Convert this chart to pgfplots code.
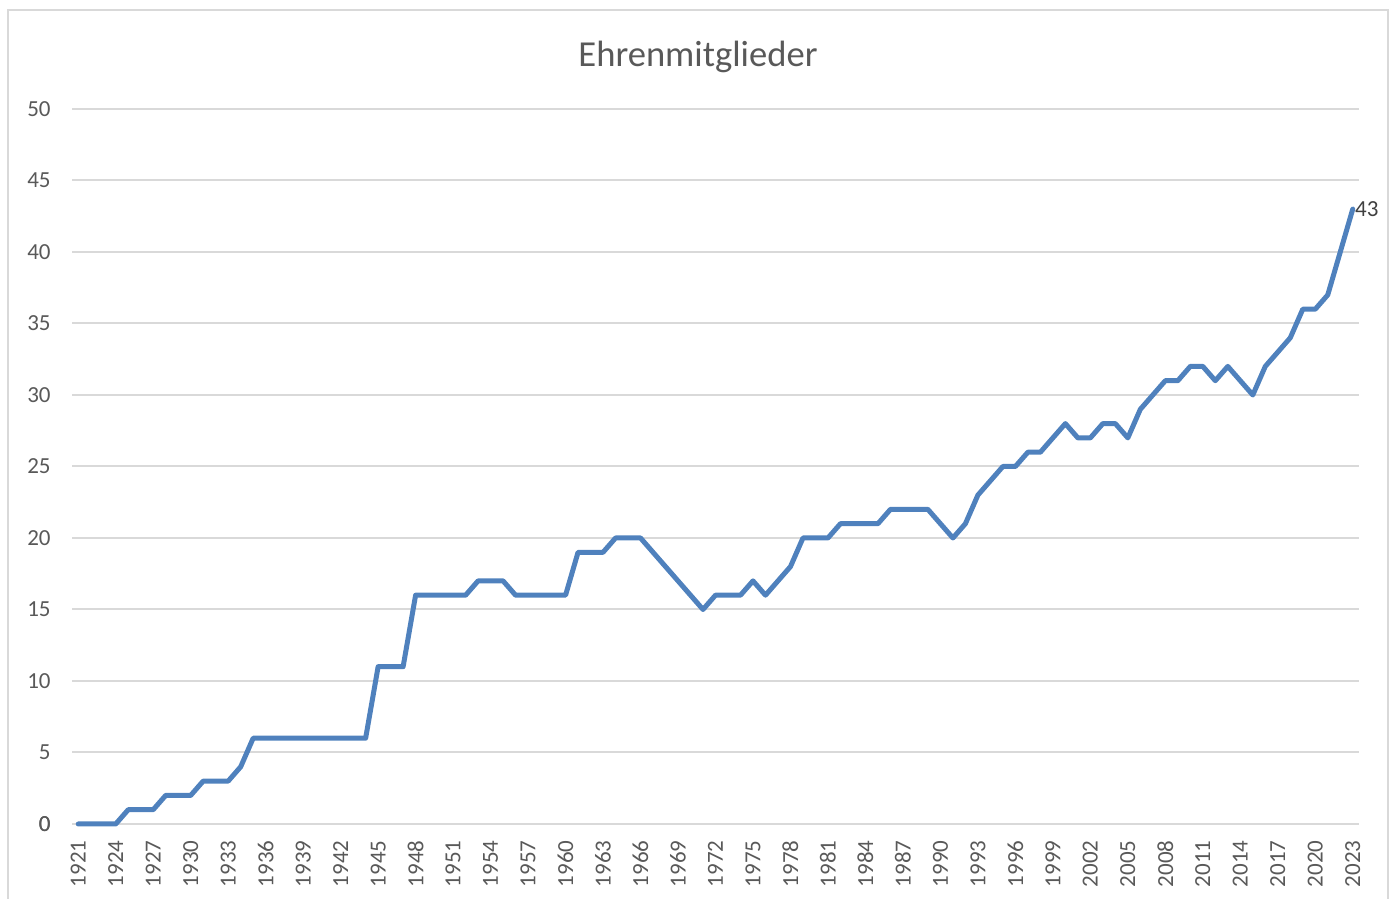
\documentclass[border=0pt]{standalone}
\usepackage{pgfplots}
\pgfplotsset{compat=1.18}
\usepackage{fontspec}
\setmainfont{Carlito}
\definecolor{linec}{HTML}{4F81BD}
\definecolor{gridc}{HTML}{D9D9D9}
\definecolor{txtc}{HTML}{595959}
\definecolor{lblc}{HTML}{404040}
\begin{document}
\begin{tikzpicture}
\path[use as bounding box] (0,0) rectangle (697pt,449.5pt);
\draw[gridc, line width=0.8pt] (4pt,-2pt) rectangle (694pt,444.5pt);
\node[anchor=base, text=txtc, font=\fontsize{18.3pt}{22pt}\selectfont] at (349pt,416pt) {Ehrenmitglieder};
\begin{axis}[
  at={(36pt,37.5pt)}, anchor=south west,
  scale only axis, width=643.5pt, height=357.5pt,
  xmin=1920.5, xmax=2023.5, ymin=0, ymax=50,
  axis line style={draw=none},
  axis x line*=bottom,
  ytick={0,5,...,50},
  xtick={1921,1924,...,2023},
  major tick length=0pt,
  ymajorgrids, grid style={gridc, line width=1pt},
  extra y ticks={0}, extra y tick style={grid style={gridc, line width=1pt}},
  /pgf/number format/assume math mode=true,
  /pgf/number format/1000 sep={},
  tick label style={font=\fontsize{11.5pt}{13pt}\selectfont, text=txtc},
  yticklabel style={anchor=east, inner sep=0pt, xshift=-10.5pt},
  xticklabel style={yshift=-8pt, rotate=90, anchor=east, inner sep=0pt},
  clip=false,
]
\addplot[linec, line width=2.5pt, line join=round, line cap=round] table {
1921 0
1922 0
1923 0
1924 0
1925 1
1926 1
1927 1
1928 2
1929 2
1930 2
1931 3
1932 3
1933 3
1934 4
1935 6
1936 6
1937 6
1938 6
1939 6
1940 6
1941 6
1942 6
1943 6
1944 6
1945 11
1946 11
1947 11
1948 16
1949 16
1950 16
1951 16
1952 16
1953 17
1954 17
1955 17
1956 16
1957 16
1958 16
1959 16
1960 16
1961 19
1962 19
1963 19
1964 20
1965 20
1966 20
1967 19
1968 18
1969 17
1970 16
1971 15
1972 16
1973 16
1974 16
1975 17
1976 16
1977 17
1978 18
1979 20
1980 20
1981 20
1982 21
1983 21
1984 21
1985 21
1986 22
1987 22
1988 22
1989 22
1990 21
1991 20
1992 21
1993 23
1994 24
1995 25
1996 25
1997 26
1998 26
1999 27
2000 28
2001 27
2002 27
2003 28
2004 28
2005 27
2006 29
2007 30
2008 31
2009 31
2010 32
2011 32
2012 31
2013 32
2014 31
2015 30
2016 32
2017 33
2018 34
2019 36
2020 36
2021 37
2022 40
2023 43
};
\node[anchor=west, inner sep=1pt, text=lblc, font=\fontsize{11.5pt}{13pt}\selectfont] at (axis cs:2023,43) {43};
\end{axis}
\end{tikzpicture}
\end{document}
